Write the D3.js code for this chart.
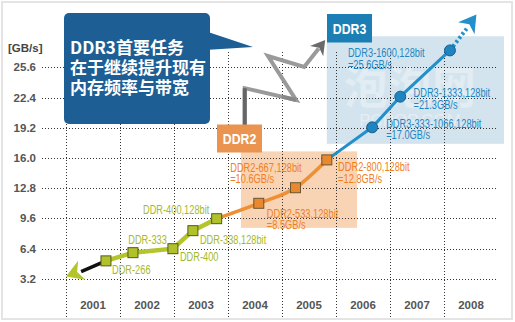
<!DOCTYPE html>
<html>
<head>
<meta charset="utf-8">
<script src="https://cdn.jsdelivr.net/npm/d3@7/dist/d3.min.js"></script>
<style>
  body { margin: 0; background: #fff; }
  svg { display: block; }
  .lbl { font-family: "Liberation Sans", Arial, sans-serif; font-size: 12.6px; }
</style>
</head>
<body>
<svg id="chart" width="515" height="322"></svg>
<script>
// ---- data ----
var years = [2001, 2002, 2003, 2004, 2005, 2006, 2007, 2008];
var yTicks = [3.2, 6.4, 9.6, 12.8, 16.0, 19.2, 22.4, 25.6];

var ddrNames  = ['DDR-266', 'DDR-333', 'DDR-400', 'DDR-338,128bit', 'DDR-400,128bit'];
var ddrYears  = [2001.74, 2002.24, 2002.98, 2003.35, 2003.79];
var ddrValues = [5.1, 5.97, 6.39, 8.3, 9.57];

var ddr2Names  = ['DDR2-533,128bit|=8.5GB/s', 'DDR2-667,128bit|=10.6GB/s', 'DDR2-800,128bit|=12.8GB/s'];
var ddr2Years  = [2004.57, 2005.25, 2005.83];
var ddr2Values = [11.2, 12.85, 15.8];

var ddr3Names  = ['DDR3-333-1066,128bit|=17.0GB/s', 'DDR3-1333,128bit|=21.3GB/s', 'DDR3-1600,128bit|=25.6GB/s'];
var ddr3Years  = [2006.67, 2007.19, 2008.11];
var ddr3Values = [19.25, 22.5, 27.4];

var calloutLines = ['DDR3首要任务', '在于继续提升现有', '内存频率与带宽'];

var svg = d3.select('#chart');

var x = d3.scaleLinear().domain([2001, 2009]).range([66, 498]);
var y = d3.scaleLinear().domain([0, 25.6]).range([309, 67.4]);

// frame
svg.append('rect').attr('x', 2).attr('y', 2).attr('width', 510).attr('height', 317)
    .attr('fill', '#fff').attr('stroke', '#e4e4e4').attr('stroke-width', 2);

// shaded era boxes
svg.append('rect')
    .attr('x', x(2004.24)).attr('y', y(16.7))
    .attr('width', x(2006.39) - x(2004.24)).attr('height', y(8.6) - y(16.7))
    .attr('fill', '#f8d3b4');
svg.append('rect')
    .attr('x', x(2005.83)).attr('y', y(28.9))
    .attr('width', 504 - x(2005.83)).attr('height', y(17.5) - y(28.9))
    .attr('fill', '#d4e4ef');

// watermark
svg.append('text').attr('x', 410).attr('y', 104).attr('text-anchor', 'middle')
    .attr('font-family', 'Noto Sans CJK SC').attr('font-weight', 'bold').attr('font-size', 44)
    .attr('fill', '#fff').attr('opacity', 0.3).text('泡泡网');
svg.append('text').attr('x', 410).attr('y', 126).attr('text-anchor', 'middle')
    .attr('font-family', 'Arial, sans-serif').attr('font-size', 17)
    .attr('fill', '#fff').attr('opacity', 0.35).text('PCPOP.COM');

// grid
var grid = svg.append('g').attr('stroke', '#333').attr('stroke-width', 1)
    .attr('stroke-dasharray', '1,2');
grid.selectAll('.h').data(yTicks).enter().append('line')
    .attr('x1', 42).attr('x2', 498)
    .attr('y1', function (d) { return Math.round(y(d)) + 0.5; })
    .attr('y2', function (d) { return Math.round(y(d)) + 0.5; });
grid.selectAll('.v').data(years).enter().append('line')
    .attr('x1', function (d) { return Math.round(x(d)) + 0.5; })
    .attr('x2', function (d) { return Math.round(x(d)) + 0.5; })
    .attr('y1', 52).attr('y2', 318);

// axis labels
svg.selectAll('.yt').data(yTicks).enter().append('text')
    .attr('x', 36).attr('y', function (d) { return y(d) + 4; })
    .attr('text-anchor', 'end')
    .attr('font-family', 'Arial, "Liberation Sans", sans-serif').attr('font-weight', 'bold')
    .attr('font-size', 11.5).attr('fill', '#555')
    .text(function (d) { return d.toFixed(1); });
svg.append('text').attr('x', 8).attr('y', 52)
    .attr('font-family', 'Arial, "Liberation Sans", sans-serif').attr('font-weight', 'bold')
    .attr('font-size', 11.5).attr('fill', '#444').text('[GB/s]');
svg.selectAll('.xt').data(years).enter().append('text')
    .attr('x', function (d) { return x(d + 0.5); }).attr('y', 309)
    .attr('text-anchor', 'middle')
    .attr('font-family', 'Arial, "Liberation Sans", sans-serif').attr('font-weight', 'bold')
    .attr('font-size', 11.5).attr('fill', '#555')
    .text(function (d) { return d; });

function pts(xs, vs) {
    return xs.map(function (d, i) { return [x(d), y(vs[i])]; });
}

function arrowHead(g, from, to, size, color) {
    var a = Math.atan2(to[1] - from[1], to[0] - from[0]);
    var p = [to,
        [to[0] - size * Math.cos(a) + size * 0.6 * Math.sin(a), to[1] - size * Math.sin(a) - size * 0.6 * Math.cos(a)],
        [to[0] - size * 0.7 * Math.cos(a), to[1] - size * 0.7 * Math.sin(a)],
        [to[0] - size * Math.cos(a) - size * 0.6 * Math.sin(a), to[1] - size * Math.sin(a) + size * 0.6 * Math.cos(a)]];
    g.append('path').attr('d', 'M' + p.join('L') + 'Z').attr('fill', color);
}

// grey zigzag arrow
var zig = [[2004.31, 19.4], [2004.31, 23.4], [2005.26, 22.15], [2004.74, 26.8], [2005.41, 25.64], [2005.80, 28.5]];
var zigPts = zig.map(function (d) { return [x(d[0]), y(d[1])]; });
var zigEnd = [x(2005.68), y(27.6)];
svg.append('path').attr('d', d3.line()(zigPts.slice(0, 5).concat([zigEnd])))
    .attr('fill', 'none').attr('stroke', '#9a9a9a').attr('stroke-width', 4).attr('stroke-linejoin', 'miter');
svg.append('path').attr('d', d3.line()(zigPts.slice(0, 2)))
    .attr('stroke', '#666').attr('stroke-width', 4);
svg.append('path').attr('d', d3.line()([zigPts[2], [x(2005.0), y(22.5)]]))
    .attr('stroke', '#888').attr('stroke-width', 4);
arrowHead(svg, zigPts[4], zigPts[5], 14, '#6a6a6a');

// callout
svg.append('path')
    .attr('d', 'M205,31 L253,47 L205,50 Z').attr('fill', '#1d5f95');
svg.append('rect').attr('x', 64).attr('y', 13).attr('width', 146).attr('height', 111)
    .attr('rx', 5).attr('fill', '#1d5f95');
svg.selectAll('.co').data(calloutLines).enter().append('text')
    .attr('x', 70).attr('y', function (d, i) { return 54 + i * 20; })
    .attr('font-family', '"Noto Sans CJK SC", sans-serif').attr('font-weight', 'bold')
    .attr('font-size', 17).attr('fill', '#fff')
    .text(function (d) { return d; });

// era tags
function tag(tx, ty, w, h, color, label) {
    svg.append('rect').attr('x', tx).attr('y', ty).attr('width', w).attr('height', h)
        .attr('fill', color);
    svg.append('text')
        .attr('transform', 'translate(' + (tx + w / 2) + ',' + (ty + h / 2 + 5.5) + ') scale(0.82,1)')
        .attr('text-anchor', 'middle')
        .attr('font-family', '"Liberation Sans", Arial, sans-serif').attr('font-weight', 'bold')
        .attr('font-size', 15).attr('fill', '#fff').text(label);
}
tag(217, 124.5, 45, 28, '#ea9450', 'DDR2');
tag(327, 14, 45, 28.5, '#1b7fb5', 'DDR3');

// ---- lines ----
var ddrPts = pts(ddrYears, ddrValues);
var ddr2Pts = [ddrPts[ddrPts.length - 1]].concat(pts(ddr2Years, ddr2Values));
var ddr3Pts = [ddr2Pts[ddr2Pts.length - 1]].concat(pts(ddr3Years, ddr3Values));

// DDR tail arrow to the left
var ddrTail = [x(2001.0), y(3.45)];
var ddrMid = [x(2001.28), y(3.95)];
svg.append('path').attr('d', d3.line()([ddrPts[0], ddrMid]))
    .attr('stroke', '#111').attr('stroke-width', 3.5);
arrowHead(svg, ddrPts[0], ddrTail, 17, '#b3c42c');

svg.append('path').attr('d', d3.line()(ddrPts))
    .attr('fill', 'none').attr('stroke', '#b3c42c').attr('stroke-width', 4.5);
svg.append('path').attr('d', d3.line().curve(d3.curveMonotoneX)(ddr2Pts))
    .attr('fill', 'none').attr('stroke', '#ef8f34').attr('stroke-width', 3.5);
svg.append('path').attr('d', d3.line()(ddr3Pts))
    .attr('fill', 'none').attr('stroke', '#2390cb').attr('stroke-width', 3);

// DDR3 dotted extension
var ddr3Tip = [x(2008.6), y(31.2)];
var last3 = ddr3Pts[ddr3Pts.length - 1];
svg.append('path').attr('d', d3.line()([last3, [x(2008.42), y(29.7)]]))
    .attr('stroke', '#2390cb').attr('stroke-width', 4).attr('stroke-dasharray', '2.5,2.5');
arrowHead(svg, last3, ddr3Tip, 17, '#2390cb');

// markers
svg.selectAll('.m1').data(ddrPts).enter().append('rect')
    .attr('x', function (d) { return d[0] - 5; }).attr('y', function (d) { return d[1] - 5; })
    .attr('width', 10).attr('height', 10)
    .attr('fill', '#b0c12a').attr('stroke', '#555a22').attr('stroke-width', 1);
svg.selectAll('.m2').data(ddr2Pts.slice(1)).enter().append('rect')
    .attr('x', function (d) { return d[0] - 5; }).attr('y', function (d) { return d[1] - 5; })
    .attr('width', 10).attr('height', 10)
    .attr('fill', '#e8892f').attr('stroke', '#6a5530').attr('stroke-width', 1);
svg.selectAll('.m3').data(ddr3Pts.slice(1)).enter().append('circle')
    .attr('cx', function (d) { return d[0]; }).attr('cy', function (d) { return d[1]; })
    .attr('r', 5.5).attr('fill', '#1f84c0').attr('stroke', '#175f8e').attr('stroke-width', 1);

// ---- labels ----
// offsets (label left edge, line centre) from each marker
var ddrOff = [[6, 8.3], [-4.7, -12.7], [7, 8.3], [7, 9.3], [-73.7, -8.7]];
svg.selectAll('.l1').data(ddrNames).enter().append('text').attr('class', 'lbl')
    .attr('transform', function (d, i) {
        return 'translate(' + (ddrPts[i][0] + ddrOff[i][0]) + ',' + (ddrPts[i][1] + ddrOff[i][1] + 4.5) + ') scale(0.735,1)';
    })
    .attr('fill', '#a7b928')
    .text(function (d) { return d; });

function twoLine(cls, names, points, offs, color) {
    var t = svg.selectAll('.' + cls).data(names).enter().append('text').attr('class', 'lbl')
        .attr('fill', color)
        .attr('transform', function (d, i) {
            return 'translate(' + (points[i][0] + offs[i][0]) + ',' + (points[i][1] + offs[i][1] + 4.5) + ') scale(0.735,1)';
        });
    t.append('tspan').attr('x', 0).attr('y', 0).text(function (d) { return d.split('|')[0]; });
    t.append('tspan').attr('x', 0).attr('y', 11.8).text(function (d) { return d.split('|')[1]; });
}
var p2 = ddr2Pts.slice(1);
twoLine('l2', ddr2Names, p2, [[8, 9.7], [-65.3, -20.7], [11.3, 7]], '#f07f1e');
var p3 = ddr3Pts.slice(1);
twoLine('l3', ddr3Names, p3, [[14, -4.3], [13.3, -3.7], [-102, 2]], '#1f86c2');
</script>
</body>
</html>
